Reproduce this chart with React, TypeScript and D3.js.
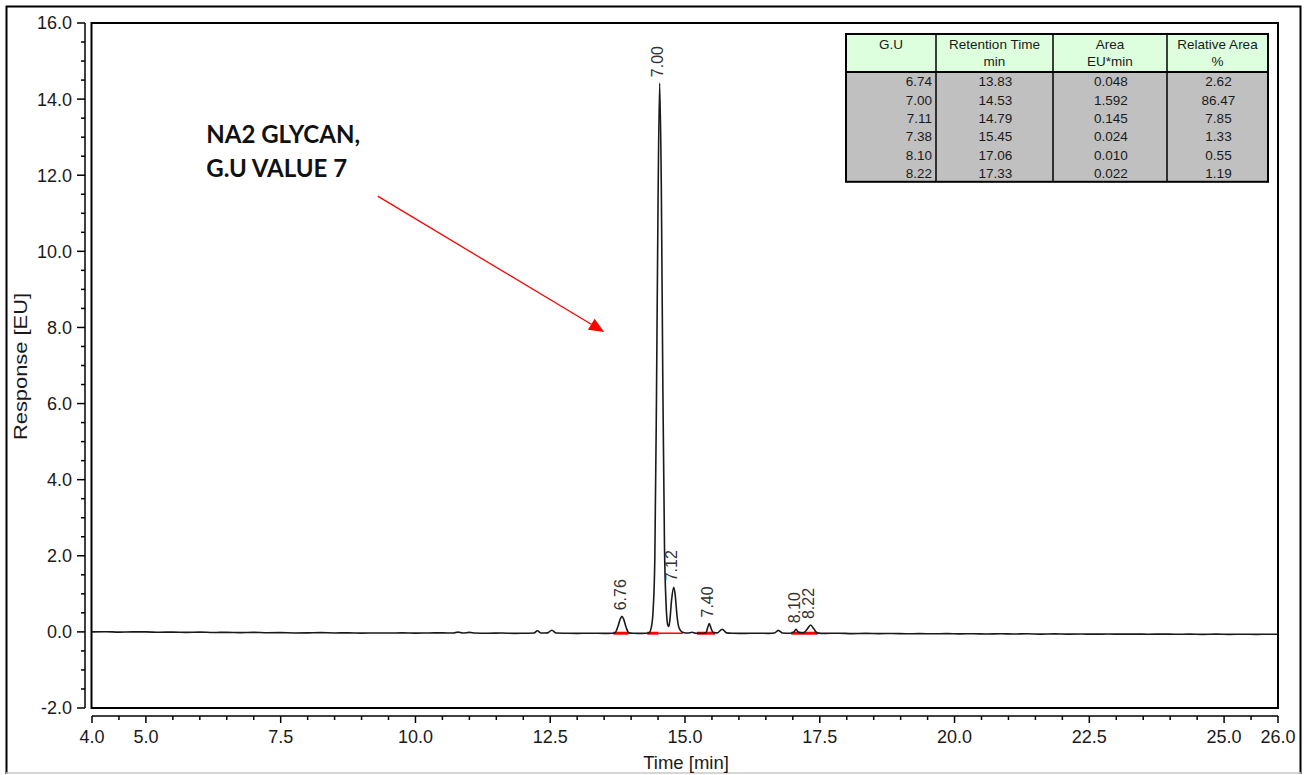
import React from "react";
import * as d3 from "d3";

// ---- Data -------------------------------------------------------------
// Chromatogram trace: [time (min), response (EU)]
const trace: [number, number][] = [
  [4.0, 0.0], [4.25, 0.005], [4.5, -0.005], [4.75, 0.0], [5.0, 0.0], [5.25, -0.01], [5.5, -0.005],
  [5.75, -0.012], [6.0, -0.005], [6.25, -0.015], [6.5, -0.012], [6.75, -0.02], [7.0, -0.012],
  [7.25, -0.022], [7.5, -0.02], [7.75, -0.028], [8.0, -0.025], [8.25, -0.02], [8.5, -0.028],
  [8.75, -0.025], [9.0, -0.032], [9.25, -0.028], [9.5, -0.03], [9.75, -0.025], [10.0, -0.032],
  [10.25, -0.028], [10.5, -0.025], [10.7, -0.03], [10.79, -0.005], [10.88, -0.03], [11.0, -0.012],
  [11.1, -0.03], [11.35, -0.035], [11.6, -0.03], [11.85, -0.038], [12.1, -0.035], [12.2, -0.03],
  [12.26, 0.03], [12.33, -0.03], [12.45, -0.025], [12.53, 0.045], [12.61, -0.03], [12.8, -0.035],
  [13.0, -0.038], [13.25, -0.035], [13.5, -0.04], [13.65, -0.035], [13.7, -0.025], [13.75, 0.12],
  [13.8, 0.34], [13.83, 0.41], [13.86, 0.34], [13.91, 0.11], [13.96, -0.025], [14.05, -0.035],
  [14.2, -0.04], [14.33, -0.03], [14.38, 0.15], [14.41, 0.6], [14.44, 1.9], [14.47, 6.0],
  [14.5, 11.3], [14.53, 14.42], [14.56, 11.8], [14.59, 6.3], [14.62, 2.2], [14.65, 0.7],
  [14.68, 0.18], [14.7, 0.14], [14.72, 0.32], [14.75, 0.82], [14.79, 1.17], [14.82, 0.95],
  [14.85, 0.45], [14.88, 0.15], [14.92, 0.03], [14.97, -0.015], [15.05, -0.03], [15.13, -0.01],
  [15.2, -0.035], [15.35, -0.035], [15.39, -0.02], [15.42, 0.11], [15.45, 0.22], [15.48, 0.11],
  [15.52, -0.015], [15.6, -0.025], [15.69, 0.07], [15.77, -0.025], [15.9, -0.035], [16.1, -0.04],
  [16.35, -0.035], [16.55, -0.04], [16.66, -0.03], [16.73, 0.04], [16.81, -0.03], [16.95, -0.035],
  [17.02, 0.0], [17.06, 0.07], [17.1, 0.0], [17.2, -0.025], [17.27, 0.08], [17.33, 0.18],
  [17.39, 0.08], [17.45, -0.025], [17.6, -0.04], [17.85, -0.035], [18.1, -0.045], [18.35, -0.04],
  [18.6, -0.045], [18.85, -0.042], [19.1, -0.05], [19.35, -0.045], [19.6, -0.05], [19.85, -0.046],
  [20.1, -0.052], [20.35, -0.048], [20.6, -0.055], [20.85, -0.05], [21.1, -0.055], [21.35, -0.05],
  [21.6, -0.058], [21.85, -0.052], [22.1, -0.058], [22.35, -0.055], [22.6, -0.06], [22.85, -0.055],
  [23.1, -0.06], [23.35, -0.058], [23.6, -0.062], [23.85, -0.058], [24.1, -0.062], [24.35, -0.06],
  [24.6, -0.065], [24.85, -0.06], [25.1, -0.065], [25.35, -0.062], [25.6, -0.066], [25.85, -0.062],
  [26.0, -0.064],
];

// Peak labels (G.U) at their retention time and apex height
const peakLabels = ["6.76", "7.00", "7.12", "7.40", "8.10", "8.22"];
const peakTimes = [13.83, 14.53, 14.79, 15.45, 17.06, 17.33];
const peakHeights = [0.41, 14.42, 1.17, 0.22, 0.07, 0.18];

// Integration baselines (red): [start, end, thick?]
const baseSegments: [number, number, boolean][] = [
  [13.67, 13.95, true],
  [14.3, 14.51, true],
  [14.51, 14.96, false],
  [15.22, 15.56, true],
  [16.97, 17.46, true],
];

// Axis ticks
const xMajorTicks = [4, 5, 7.5, 10, 12.5, 15, 17.5, 20, 22.5, 25, 26];
const yMajorTicks = [-2, 0, 2, 4, 6, 8, 10, 12, 14, 16];

// Results table
const tableHeaders: [string, string][] = [
  ["G.U", ""],
  ["Retention Time", "min"],
  ["Area", "EU*min"],
  ["Relative Area", "%"],
];
const guValues = ["6.74", "7.00", "7.11", "7.38", "8.10", "8.22"];
const retentionTimes = ["13.83", "14.53", "14.79", "15.45", "17.06", "17.33"];
const areas = ["0.048", "1.592", "0.145", "0.024", "0.010", "0.022"];
const relativeAreas = ["2.62", "86.47", "7.85", "1.33", "0.55", "1.19"];

// Annotation
const annotationLines = ["NA2 GLYCAN,", "G.U VALUE 7"];
const annotationAt: [number, number] = [6.12, 12.84];
const arrowFrom: [number, number] = [9.3, 11.45];
const arrowTo: [number, number] = [13.5, 7.88];

// ---- Chart ------------------------------------------------------------
const W = 1309;
const H = 775;
const L = 92, R = 1278, T = 23, B = 708;
const FONT = "'Liberation Sans', Arial, sans-serif";

export default function App() {
  const x = d3.scaleLinear().domain([4, 26]).range([L, R]);
  const y = d3.scaleLinear().domain([-2, 16]).range([B, T]);

  const line = d3
    .line<[number, number]>()
    .x((d) => x(d[0]))
    .y((d) => y(d[1]))
    .curve(d3.curveMonotoneX);

  const xMinor = d3.range(4, 26.001, 0.5).filter((v) => !xMajorTicks.some((m) => Math.abs(m - v) < 1e-6));
  const yMinor = d3.range(-2, 16.001, 0.5).filter((v) => !yMajorTicks.some((m) => Math.abs(m - v) < 1e-6));

  const yAxisX = 85;
  const xAxisY = 716;

  // table geometry
  const colEdges = [846, 936, 1053, 1167, 1268];
  const tTop = 34;
  const headH = 38;
  const rowH = 18.3;
  const tBottom = tTop + headH + rowH * guValues.length;
  const rows = guValues.map((g, i) => [g, retentionTimes[i], areas[i], relativeAreas[i]]);

  // arrow
  const ax1 = x(arrowFrom[0]), ay1 = y(arrowFrom[1]);
  const ax2 = x(arrowTo[0]), ay2 = y(arrowTo[1]);
  const ang = Math.atan2(ay2 - ay1, ax2 - ax1);
  const headLen = 15, headW = 6.5;
  const bx = ax2 - headLen * Math.cos(ang), by = ay2 - headLen * Math.sin(ang);
  const head = [
    [ax2, ay2],
    [bx + headW * Math.sin(ang), by - headW * Math.cos(ang)],
    [bx - headW * Math.sin(ang), by + headW * Math.cos(ang)],
  ]
    .map((p) => p.join(","))
    .join(" ");

  return (
    <svg
      width={W}
      height={H}
      style={{ position: "absolute", left: 0, top: 0, background: "#fff" }}
      fontFamily={FONT}
    >
      <rect x={0} y={0} width={W} height={H} fill="#fff" />
      {/* outer frame */}
      <path d={`M6.5,774 V6.5 H1300.5 V774`} fill="none" stroke="#000" strokeWidth={2} />
      <line x1={6} x2={1301} y1={773} y2={773} stroke="#c8c8c8" strokeWidth={1.5} />

      <defs>
        <clipPath id="plotClip">
          <rect x={L} y={T} width={R - L} height={B - T} />
        </clipPath>
      </defs>

      {/* y axis */}
      <line x1={yAxisX} x2={yAxisX} y1={y(16)} y2={y(-2)} stroke="#000" strokeWidth={1.5} />
      {yMajorTicks.map((v) => (
        <g key={"ym" + v}>
          <line x1={yAxisX - 8} x2={yAxisX} y1={y(v)} y2={y(v)} stroke="#000" strokeWidth={1.5} />
          <text x={72} y={y(v)} dy="0.36em" textAnchor="end" fontSize={18} fill="#1a1a1a">
            {v.toFixed(1)}
          </text>
        </g>
      ))}
      {yMinor.map((v) => (
        <line key={"yn" + v} x1={yAxisX - 4} x2={yAxisX} y1={y(v)} y2={y(v)} stroke="#000" strokeWidth={1.5} />
      ))}
      <text
        transform={`translate(21,${(y(16) + y(-2)) / 2 + 1}) rotate(-90)`}
        textAnchor="middle"
        dy="0.36em"
        fontSize={18}
        textLength={147}
        lengthAdjust="spacingAndGlyphs"
        fill="#1a1a1a"
      >
        Response [EU]
      </text>

      {/* x axis */}
      <line x1={x(4)} x2={x(26)} y1={xAxisY} y2={xAxisY} stroke="#000" strokeWidth={1.5} />
      {xMajorTicks.map((v) => (
        <g key={"xm" + v}>
          <line x1={x(v)} x2={x(v)} y1={xAxisY} y2={xAxisY + 7} stroke="#000" strokeWidth={1.5} />
          <text x={x(v)} y={743} textAnchor="middle" fontSize={18} fill="#1a1a1a">
            {v.toFixed(1)}
          </text>
        </g>
      ))}
      {xMinor.map((v) => (
        <line key={"xn" + v} x1={x(v)} x2={x(v)} y1={xAxisY} y2={xAxisY + 4} stroke="#000" strokeWidth={1.5} />
      ))}
      <text x={(x(4) + x(26)) / 2 + 1} y={769} textAnchor="middle" fontSize={18.5} fill="#1a1a1a">
        Time [min]
      </text>

      {/* plot frame */}
      <rect x={91.5} y={23} width={R - 91.5} height={B - 23} fill="none" stroke="#000" strokeWidth={2} />

      {/* integration baselines */}
      <g clipPath="url(#plotClip)">
        {baseSegments.map(([a, b, thick], i) => (
          <line
            key={"bs" + i}
            x1={x(a)}
            x2={x(b)}
            y1={y(-0.035)}
            y2={y(-0.035)}
            stroke="#ff0000"
            strokeWidth={thick ? 3 : 1.5}
          />
        ))}
        <path d={line(trace) || ""} fill="none" stroke="#1a1a1a" strokeWidth={1.6} strokeLinejoin="round" />
      </g>

      {/* peak labels */}
      {peakLabels.map((lab, i) => {
        const px = x(peakTimes[i]) - 2;
        const py = y(peakHeights[i]) - 6;
        return (
          <text
            key={"pl" + i}
            transform={`translate(${px},${py}) rotate(-90)`}
            dy="0.36em"
            fontSize={16}
            fill="#333"
          >
            {lab}
          </text>
        );
      })}

      {/* annotation */}
      {annotationLines.map((t, i) => (
        <text
          key={"an" + i}
          x={x(annotationAt[0])}
          y={y(annotationAt[1]) + i * 33.5}
          fontFamily="Lato, 'Open Sans', sans-serif"
          fontWeight={700}
          fontSize={24}
          fill="#111"
        >
          {t}
        </text>
      ))}
      <line x1={ax1} y1={ay1} x2={bx} y2={by} stroke="#ff0000" strokeWidth={1.3} />
      <polygon points={head} fill="#ff0000" />

      {/* results table */}
      <g fontSize={13.5} fill="#1a1a1a">
        <rect x={colEdges[0]} y={tTop} width={colEdges[4] - colEdges[0]} height={headH} fill="#ddffdd" />
        <rect
          x={colEdges[0]}
          y={tTop + headH}
          width={colEdges[4] - colEdges[0]}
          height={tBottom - tTop - headH}
          fill="#c0c0c0"
        />
        {tableHeaders.map(([a, b], c) => {
          const cx = (colEdges[c] + colEdges[c + 1]) / 2;
          return (
            <g key={"th" + c}>
              <text x={cx} y={tTop + 15} textAnchor="middle">
                {a}
              </text>
              {b && (
                <text x={cx} y={tTop + 32} textAnchor="middle">
                  {b}
                </text>
              )}
            </g>
          );
        })}
        {rows.map((r, ri) =>
          r.map((v, c) => {
            const base = tTop + headH + rowH * (ri + 1) - 4;
            if (c === 0)
              return (
                <text key={`c${ri}-${c}`} x={colEdges[1] - 4} y={base} textAnchor="end">
                  {v}
                </text>
              );
            return (
              <text key={`c${ri}-${c}`} x={(colEdges[c] + colEdges[c + 1]) / 2 + 1} y={base} textAnchor="middle">
                {v}
              </text>
            );
          })
        )}
        {colEdges.slice(1, 4).map((cx, i) => (
          <line key={"cl" + i} x1={cx} x2={cx} y1={tTop} y2={tBottom} stroke="#000" strokeWidth={1.5} />
        ))}
        <line x1={colEdges[0]} x2={colEdges[4]} y1={tTop + headH} y2={tTop + headH} stroke="#000" strokeWidth={2} />
        <rect
          x={colEdges[0]}
          y={tTop}
          width={colEdges[4] - colEdges[0]}
          height={tBottom - tTop}
          fill="none"
          stroke="#000"
          strokeWidth={2}
        />
      </g>
    </svg>
  );
}
